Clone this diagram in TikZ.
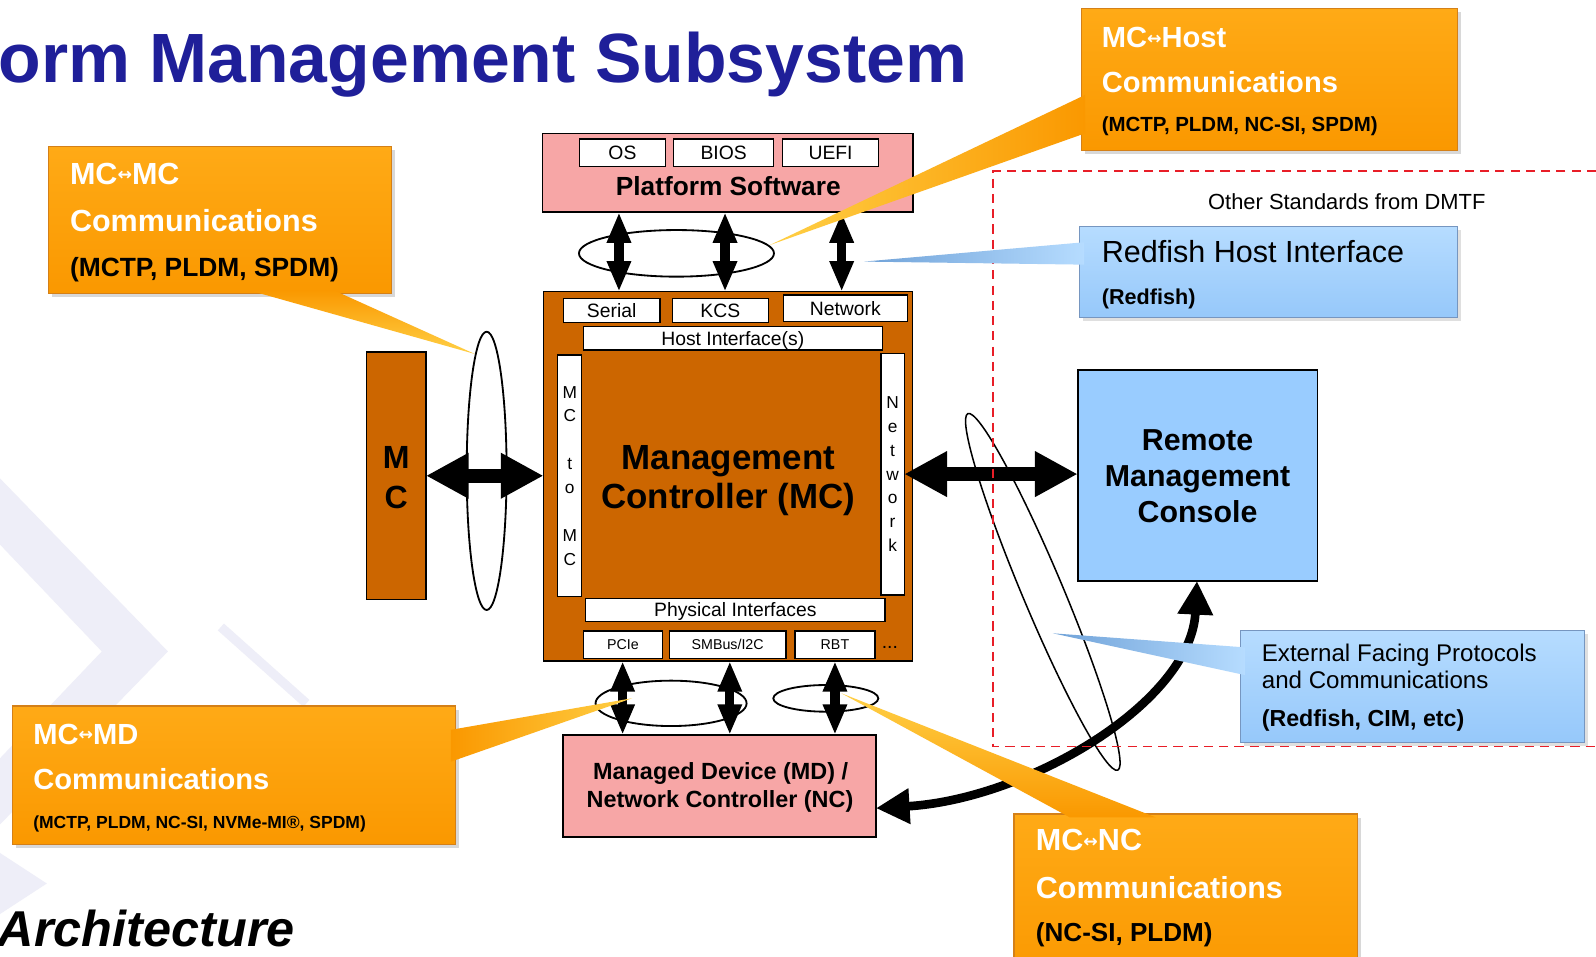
\documentclass[tikz,border=0pt]{standalone}
\usepackage{fontspec}
\setmainfont{Liberation Sans}
\newfontfamily\arrowfont{DejaVu Sans}
\usetikzlibrary{arrows.meta,shadows}

\definecolor{titleblue}{RGB}{31,31,153}
\definecolor{mcbrown}{RGB}{204,102,0}
\definecolor{swpink}{RGB}{247,166,166}
\definecolor{rmcblue}{RGB}{153,204,255}
\definecolor{orTop}{RGB}{255,170,22}
\definecolor{orBot}{RGB}{250,152,0}
\definecolor{orEdge}{RGB}{212,128,24}
\definecolor{tipGold}{RGB}{255,208,70}
\definecolor{blTop}{RGB}{182,220,255}
\definecolor{blBot}{RGB}{150,200,250}
\definecolor{blEdge}{RGB}{118,150,192}
\definecolor{blDark}{RGB}{112,162,216}
\definecolor{dmtfred}{RGB}{232,30,40}
\definecolor{wmark}{RGB}{238,238,248}

\newcommand\pxf[1]{\fontsize{#1}{#1}\selectfont}
\newcommand\lrarrow{\raisebox{3.5pt}{\arrowfont\fontsize{17}{17}\selectfont ↔}}

\begin{document}
\begin{tikzpicture}[x=1pt,y=-1pt,
  every node/.style={inner sep=0pt,outer sep=0pt},
  frame/.style={draw=black,line width=1.6pt},
  slot/.style={draw=black,line width=1.3pt,fill=white,font=\pxf{#1},
    text height=0.716*#1,text depth=0pt},
  vslot/.style={draw=black,line width=1.3pt,fill=white,align=center,
    font=\fontsize{17}{23.5}\selectfont},
  head/.style={anchor=base,font=\bfseries\pxf{#1}},
  wline/.style={anchor=base west,text=white,font=\bfseries\pxf{#1}},
  kline/.style={anchor=base west,text=black,font=\bfseries\pxf{#1}},
  nline/.style={anchor=base west,text=black,font=\pxf{#1}},
  orangebox/.style={draw=orEdge,line width=1pt,top color=orTop,bottom color=orBot,
    drop shadow={shadow xshift=3.5pt,shadow yshift=-3.5pt,opacity=0.3}},
  bluebox/.style={draw=blEdge,line width=1pt,top color=blTop,bottom color=blBot,
    drop shadow={shadow xshift=3pt,shadow yshift=-3pt,opacity=0.25}},
  hostlink/.style={line width=9pt,
    {Triangle[length=30pt,width=22pt]}-{Triangle[length=30pt,width=22pt]}},
  sidelink/.style={line width=14pt,
    {Triangle[length=42pt,width=42pt]}-{Triangle[length=42pt,width=42pt]}},
  remotelink/.style={line width=8.5pt,
    {Triangle[length=33pt,width=33pt]}-{Triangle[length=33pt,width=33pt]}},
  ring/.style={draw=black,line width=1.8pt},
]
\useasboundingbox (0,0) rectangle (1568,940);
\clip (0,0) rectangle (1568,940);
\fill[white] (0,0) rectangle (1568,940);

% faint background chevrons
\fill[wmark] (0,470) -- (165,640) -- (0,810) -- (0,745) -- (100,640) -- (0,535) -- cycle;
\draw[wmark,line width=9pt] (217,616) -- (301,691);
\fill[wmark] (0,838) -- (46,868) -- (0,898) -- cycle;

% headings
\node[anchor=base west,text=titleblue,font=\bfseries\pxf{68.5}] (title) at (-1.5,81.5)
  {orm Management Subsystem};
\node[anchor=base west,font=\bfseries\itshape\pxf{49.5}] (arch) at (-2,930) {Architecture};

% platform software
\node[frame,fill=swpink,minimum width=364pt,minimum height=77.5pt] (ps) at (715,169.75) {};
\node[slot=19,minimum width=85pt,minimum height=27pt] (os) at (611.5,150.2) {OS};
\node[slot=19,minimum width=98pt,minimum height=27pt] (bios) at (711,150.2) {BIOS};
\node[slot=19,minimum width=94pt,minimum height=27pt] (uefi) at (816,150.2) {UEFI};
\node[head=25.8] (pslabel) at (715.5,191.6) {Platform Software};

% management controller
\node[frame,fill=mcbrown,minimum width=362.6pt,minimum height=362.9pt] (mc) at (715.3,468) {};
\node[slot=19,minimum width=95pt,minimum height=23.7pt] (serial) at (600.9,304.9) {Serial};
\node[slot=19,minimum width=94.3pt,minimum height=23.7pt] (kcs) at (707.7,304.9) {KCS};
\node[slot=19,minimum width=121.8pt,minimum height=26.2pt] (net) at (830.5,302.9) {Network};
\node[slot=19,minimum width=293.8pt,minimum height=22.8pt] (hif) at (719.9,332.4) {Host Interface(s)};
\node[vslot,minimum width=23.5pt,minimum height=237.4pt] (mcmcv) at (559.75,467.5)
  {M\\C\\[23.5pt]t\\o\\[23.5pt]M\\C};
\node[vslot,minimum width=22.9pt,minimum height=237.5pt] (netv) at (876.95,465.75)
  {N\\e\\t\\w\\o\\r\\k};
\node[slot=19,minimum width=294pt,minimum height=23pt] (phy) at (722.4,599.3) {Physical Interfaces};
\node[slot=14,minimum width=78pt,minimum height=26.7pt] (pcie) at (612,633.35) {PCIe};
\node[slot=14,minimum width=114.6pt,minimum height=26.7pt] (smbus) at (714.9,633.35) {SMBus/I2C};
\node[slot=14,minimum width=78.6pt,minimum height=26.7pt] (rbt) at (820.3,633.35) {RBT};
\node[anchor=base,font=\pxf{19}] (more) at (874.3,637) {...};
\node[head=34.3] (mcl1) at (715.5,461) {Management};
\node[head=34.3] (mcl2) at (715.5,500) {Controller (MC)};

% neighbouring controller
\node[frame,fill=mcbrown,minimum width=58.3pt,minimum height=242.8pt] (mcs) at (389.35,467.4) {};
\node[head=31.5] (mcsM) at (389.35,460) {M};
\node[head=31.5] (mcsC) at (389.35,499.4) {C};

% remote console
\node[frame,fill=rmcblue,minimum width=235.5pt,minimum height=207.3pt] (rmc) at (1176.55,467.15) {};
\node[head=29.8] (rmc1) at (1176.55,442.8) {Remote};
\node[head=29.8] (rmc2) at (1176.55,478.1) {Management};
\node[head=29.8] (rmc3) at (1176.55,513.5) {Console};

% managed device
\node[frame,fill=swpink,minimum width=307.2pt,minimum height=100.6pt] (md) at (707,772.3) {};
\node[head=23] (md1) at (708,766) {Managed Device (MD) /};
\node[head=23] (md2) at (707.4,793.5) {Network Controller (NC)};

% grouping rings
\draw[ring] (664.6,248.9) ellipse [x radius=95.8pt,y radius=22.9pt];
\draw[ring] (478.1,462.6) ellipse [x radius=19.6pt,y radius=136.7pt];
\draw[ring] (659.3,691) ellipse [x radius=74.2pt,y radius=22.3pt];
\draw[ring] (811.3,686.1) ellipse [x radius=51.6pt,y radius=13.1pt];
\draw[ring,line width=1.5pt,rotate around={-67.2:(1024.5,581.5)}] (1024.5,581.5)
  ellipse [x radius=190pt,y radius=20pt];

% links
\draw[hostlink] (608.1,0 |- ps.south) -- (608.1,0 |- mc.north);
\draw[hostlink] (712.3,0 |- ps.south) -- (712.3,0 |- mc.north);
\draw[hostlink] (826.9,0 |- ps.south) -- (826.9,0 |- mc.north);
\draw[hostlink] (611.7,0 |- mc.south) -- (611.7,0 |- md.north);
\draw[hostlink] (717,0 |- mc.south) -- (717,0 |- md.north);
\draw[hostlink] (820.3,0 |- mc.south) -- (820.3,0 |- md.north);
\draw[sidelink] (mcs.east) -- (mcs.east -| mc.west);
\draw[sidelink] (netv.east) -- (netv.east -| rmc.west);
\draw[remotelink] (1176,0 |- rmc.south) .. controls (1170,690) and (1010,785) .. (md.east |- 0,794);

% DMTF scope
\draw[dmtfred,line width=1.6pt,dash pattern=on 9pt off 6pt]
  (1568,167.7) -| (975.8,733.5) -- (1568,733.5);
\node[nline=21.5] (dmtf) at (1187,205.6) {Other Standards from DMTF};

% callout: MC-MC
\node[orangebox,anchor=north west,minimum width=337.3pt,minimum height=144.2pt] (mcmc) at (47.5,144) {};
\shade[top color=orBot,bottom color=tipGold] (244,285) -- (466.6,347.8) -- (327.5,285) -- cycle;
\node[wline=30] (mcmc1) at (68.8,181) {MC\lrarrow MC};
\node[wline=30] (mcmc2) at (68.8,227.6) {Communications};
\node[kline=25.9] (mcmc3) at (68.8,271.8) {(MCTP, PLDM, SPDM)};

% callout: MC-Host
\node[orangebox,anchor=north west,minimum width=370pt,minimum height=139.2pt] (mchost) at (1062.2,8.2) {};
\shade[left color=tipGold,right color=orBot] (1066,93.3) -- (756.4,240.7) -- (1066,131) -- cycle;
\node[wline=28.6] (mch1) at (1082.5,46.8) {MC\lrarrow Host};
\node[wline=28.6] (mch2) at (1082.5,91) {Communications};
\node[kline=20.1] (mch3) at (1082.5,129.3) {(MCTP, PLDM, NC-SI, SPDM)};

% callout: MC-MD
\node[orangebox,anchor=north west,minimum width=434.8pt,minimum height=136.5pt] (mcmd) at (12.4,693.6) {};
\shade[left color=orBot,right color=tipGold] (443,717) -- (621,686) -- (443,748.3) -- cycle;
\node[wline=28.6] (mcmd1) at (32.7,731) {MC\lrarrow MD};
\node[wline=28.6] (mcmd2) at (32.7,776) {Communications};
\node[kline=17.2] (mcmd3) at (32.7,813.8) {(MCTP, PLDM, NC-SI, NVMe-MI®, SPDM)};

% callout: MC-NC
\node[orangebox,anchor=north west,minimum width=337.4pt,minimum height=170pt] (mcnc) at (996.2,799.7) {};
\shade[top color=tipGold,bottom color=orBot] (1051,803) -- (826.6,681.1) -- (1135.4,803) -- cycle;
\node[wline=30] (mcnc1) at (1017.8,835.7) {MC\lrarrow NC};
\node[wline=29.9] (mcnc2) at (1017.8,882.5) {Communications};
\node[kline=25.6] (mcnc3) at (1017.8,925.1) {(NC-SI, PLDM)};

% callout: Redfish host interface
\node[bluebox,anchor=north west,minimum width=371pt,minimum height=89pt] (rhi) at (1061,223) {};
\shade[left color=blDark,right color=blTop] (1065,238) -- (849,257) -- (1065,260) -- cycle;
\node[nline=30] (rhi1) at (1082.6,257.7) {Redfish Host Interface};
\node[kline=21.2] (rhi2) at (1082.6,298.7) {(Redfish)};

% callout: external protocols
\node[bluebox,anchor=north west,minimum width=338pt,minimum height=110pt] (ext) at (1218.7,619.6) {};
\shade[left color=blDark,right color=blTop] (1223,636) -- (1034.5,622.2) -- (1223,663.2) -- cycle;
\node[nline=23.7] (ext1) at (1239.7,650) {External Facing Protocols};
\node[nline=23.7] (ext2) at (1239.7,676.2) {and Communications};
\node[kline=22.8] (ext3) at (1239.7,713.9) {(Redfish, CIM, etc)};
\end{tikzpicture}
\end{document}
